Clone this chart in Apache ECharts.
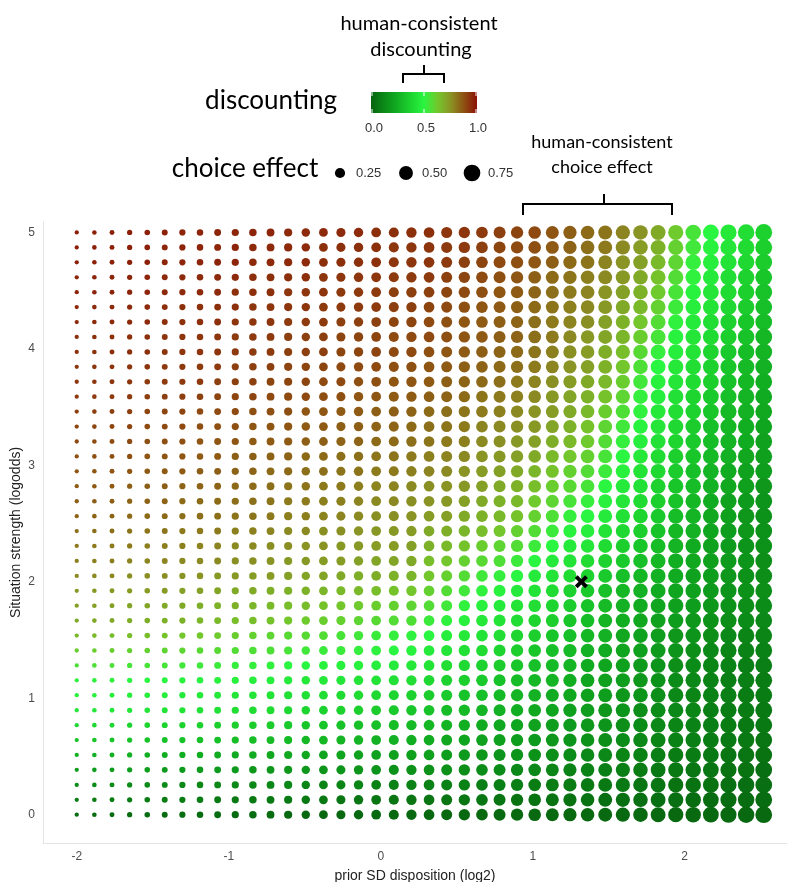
<!DOCTYPE html>
<html>
<head>
<meta charset="utf-8">
<script src="https://cdn.jsdelivr.net/npm/echarts/dist/echarts.min.js"></script>
<style>
html, body { margin: 0; padding: 0; background: #fff; }
#chart { width: 787px; height: 882px; }
</style>
</head>
<body>
<div id="chart"></div>
<script>
// grid of model settings (x = prior SD disposition, log2; y = situation strength, logodds)
var xValues = [-2.000, -1.884, -1.768, -1.652, -1.536, -1.421, -1.305, -1.189, -1.073, -0.957,
	-0.841, -0.725, -0.609, -0.493, -0.377, -0.262, -0.146, -0.030, 0.086, 0.202,
	0.318, 0.434, 0.550, 0.666, 0.782, 0.897, 1.013, 1.129, 1.245, 1.361,
	1.477, 1.593, 1.709, 1.825, 1.941, 2.056, 2.172, 2.288, 2.404, 2.520];
var yValues = [0.000, 0.128, 0.256, 0.385, 0.513, 0.641, 0.769, 0.897, 1.026, 1.154,
	1.282, 1.410, 1.538, 1.667, 1.795, 1.923, 2.051, 2.179, 2.308, 2.436,
	2.564, 2.692, 2.821, 2.949, 3.077, 3.205, 3.333, 3.462, 3.590, 3.718,
	3.846, 3.974, 4.103, 4.231, 4.359, 4.487, 4.615, 4.744, 4.872, 5.000];

// choice effect, one value per column (dot size)
var choiceEffect = [0.053, 0.062, 0.072, 0.082, 0.093, 0.105, 0.117, 0.130, 0.143, 0.158,
	0.172, 0.188, 0.204, 0.220, 0.238, 0.256, 0.274, 0.294, 0.314, 0.334,
	0.355, 0.377, 0.400, 0.423, 0.447, 0.471, 0.496, 0.522, 0.548, 0.575,
	0.603, 0.631, 0.660, 0.690, 0.720, 0.751, 0.782, 0.814, 0.847, 0.881];

// discounting in percent, one string per row, top row (y = 5) first
var discountRows = [
	"97 97 97 97 97 97 96 96 96 96 96 96 95 95 95 95 95 94 94 94 94 93 93 92 91 90 89 87 85 83 81 78 75 70 62 55 50 45 41 37",
	"97 97 97 97 97 96 96 96 96 96 95 95 95 95 94 94 94 94 93 93 93 92 92 91 90 89 88 86 84 82 80 77 73 68 60 54 49 44 40 36",
	"97 97 97 97 97 96 96 96 96 96 95 95 95 95 94 94 94 94 93 93 93 92 91 90 89 88 87 85 83 81 78 75 72 66 59 52 47 43 39 35",
	"96 96 96 96 96 95 95 95 95 95 94 94 94 94 93 93 93 93 92 92 92 91 90 89 88 87 85 83 81 79 77 74 70 64 57 51 46 41 37 33",
	"96 96 96 96 96 95 95 95 95 94 94 94 93 93 93 92 92 92 91 91 91 90 89 88 87 86 84 82 80 78 75 72 68 62 55 49 44 40 36 32",
	"95 95 95 95 95 94 94 94 94 94 93 93 93 93 92 92 92 92 91 91 90 89 88 87 86 85 83 81 79 77 74 70 66 60 53 47 43 39 35 31",
	"95 95 95 95 95 94 94 94 94 93 93 93 92 92 92 91 91 91 90 90 89 88 87 86 85 84 82 80 78 76 72 68 63 57 51 46 41 37 33 30",
	"94 94 94 94 94 93 93 93 93 92 92 92 91 91 91 90 90 90 89 89 89 88 87 86 85 84 82 80 77 74 71 67 61 55 49 44 40 36 32 28",
	"94 94 94 94 94 93 93 93 93 92 92 92 91 91 91 90 90 90 89 89 88 87 86 85 84 83 81 79 76 73 69 65 58 52 47 43 38 34 30 27",
	"93 93 93 93 93 92 92 92 92 91 91 91 90 90 90 89 89 89 88 88 87 86 85 84 83 82 80 78 75 72 68 63 56 50 45 41 37 33 29 26",
	"93 93 93 93 92 92 92 92 91 91 91 90 90 90 89 89 88 88 87 87 86 85 84 83 82 80 78 76 73 70 66 61 54 48 44 40 36 32 28 25",
	"92 92 92 92 91 91 91 91 90 90 90 89 89 89 88 88 87 87 86 86 85 84 83 81 80 79 77 74 71 68 64 59 52 47 42 38 34 31 27 24",
	"91 91 91 91 90 90 90 89 89 89 88 88 88 87 87 86 86 85 85 84 83 82 81 80 79 77 75 73 70 66 61 56 51 45 41 37 33 29 26 23",
	"90 90 90 90 89 89 89 88 88 88 87 87 87 86 86 85 85 84 84 83 82 81 80 78 77 76 74 71 68 64 59 54 49 44 39 35 31 28 25 22",
	"89 89 89 89 88 88 88 87 87 87 86 86 86 85 85 84 84 83 83 82 81 80 79 77 76 74 72 69 66 62 57 52 47 42 38 34 30 27 24 21",
	"88 88 88 88 87 87 87 86 86 85 85 84 84 83 83 82 82 81 81 80 79 78 77 75 74 72 70 66 63 60 55 50 45 40 36 33 29 26 23 20",
	"87 87 87 87 86 86 86 85 85 84 84 83 83 82 82 81 81 80 80 79 78 77 75 73 72 70 67 64 60 57 53 48 43 39 35 31 27 24 21 19",
	"86 86 86 85 85 85 84 84 84 83 83 82 81 81 80 80 79 78 78 77 76 75 74 72 70 68 65 61 58 55 50 46 42 37 33 30 26 23 20 17",
	"85 85 85 84 84 84 83 83 83 82 82 81 80 80 79 79 78 77 77 76 75 74 72 70 68 66 62 59 55 52 48 44 40 36 32 28 24 21 18 16",
	"84 84 84 83 83 83 82 82 82 81 81 80 79 79 78 78 77 76 76 75 73 72 70 68 66 64 60 56 52 50 46 42 38 34 30 27 23 20 17 15",
	"82 82 82 81 81 81 80 80 80 79 79 78 77 77 76 76 75 74 74 73 70 69 67 65 63 60 57 53 49 47 43 39 36 32 28 26 22 19 17 15",
	"80 80 80 80 79 79 79 78 78 77 77 76 76 75 75 74 74 73 73 72 68 66 64 61 59 57 53 50 46 44 40 36 33 30 27 24 21 18 16 15",
	"79 79 79 78 78 78 77 77 77 76 76 75 74 74 73 73 72 71 71 70 65 63 60 58 56 53 50 46 43 40 37 34 31 28 25 23 20 18 16 14",
	"77 77 77 76 76 76 75 75 74 74 73 73 72 71 71 70 69 69 68 67 63 60 57 54 52 50 46 43 40 37 34 31 28 26 24 21 19 17 15 14",
	"74 74 74 73 73 73 72 72 71 70 70 69 68 68 67 66 66 65 64 63 60 57 54 51 49 46 43 40 37 34 31 28 26 24 22 20 18 16 15 14",
	"72 72 72 71 71 70 70 69 68 68 67 66 65 65 64 63 62 61 60 59 57 54 51 48 46 43 41 38 35 32 29 26 24 22 20 19 17 15 14 13",
	"70 70 70 69 69 68 68 67 66 65 65 64 63 62 61 60 59 58 57 56 53 51 48 45 43 41 38 36 33 30 27 25 23 21 19 17 15 14 13 12",
	"66 66 65 65 65 64 63 63 62 61 60 59 58 58 57 55 54 53 52 51 50 47 45 43 41 38 36 33 31 28 26 23 21 19 17 16 14 12 11 11",
	"61 61 61 60 60 59 59 58 58 57 56 56 55 54 53 53 52 51 50 49 46 44 42 40 38 36 33 31 29 26 24 22 20 18 16 14 12 11 10 10",
	"56 56 56 55 55 55 54 54 53 52 52 51 50 50 49 48 48 47 46 45 43 41 39 37 35 33 31 29 27 24 22 20 18 16 14 13 11 10 09 09",
	"51 51 51 50 50 50 49 49 48 48 47 47 46 45 45 44 43 43 42 41 39 37 36 34 32 30 28 27 25 22 20 19 17 15 13 12 10 09 09 08",
	"48 48 48 47 47 47 46 46 45 44 44 43 42 42 41 40 40 39 38 37 35 34 32 31 29 27 26 24 23 20 19 17 16 14 12 11 10 09 08 08",
	"45 45 45 44 44 43 43 42 42 41 40 40 39 38 37 37 36 35 34 33 32 30 29 27 26 25 23 22 20 19 17 16 14 13 12 11 09 08 08 07",
	"39 39 39 38 38 38 37 37 36 36 35 35 34 33 33 32 31 31 30 29 28 27 25 24 23 22 21 19 18 17 16 14 13 12 11 10 09 08 07 07",
	"33 33 33 32 32 32 32 31 31 30 30 29 29 28 28 27 27 26 26 25 24 23 22 21 20 19 18 17 16 15 14 13 12 11 10 09 08 07 07 06",
	"26 26 26 26 25 25 25 25 24 24 24 23 23 23 22 22 21 21 20 20 20 19 18 17 16 16 15 14 13 12 12 11 10 09 08 08 07 06 06 05",
	"19 19 19 19 19 18 18 18 18 18 17 17 17 17 16 16 16 16 15 15 15 15 14 13 13 12 12 11 10 10 09 09 08 07 07 06 06 05 05 04",
	"13 13 13 13 13 13 12 12 12 12 12 12 12 11 11 11 11 10 10 10 10 10 10 09 09 09 08 08 08 07 07 07 06 06 05 05 05 04 04 04",
	"08 08 08 08 08 08 08 08 07 07 07 07 07 07 07 06 06 06 06 06 06 06 06 06 06 05 05 05 05 05 04 04 04 04 04 03 03 03 03 03",
	"03 03 03 03 03 03 03 03 03 03 03 03 02 02 02 02 02 02 02 02 02 02 02 02 02 02 02 02 02 02 02 02 02 02 02 02 02 02 02 02"
];

var xTicks = [-2, -1, 0, 1, 2];
var yTicks = [0, 1, 2, 3, 4, 5];
var colorbarTicks = ['0.0', '0.5', '1.0'];
var sizeLegend = [0.25, 0.50, 0.75];
var humanPoint = [[1.32, 2.0]];

// darkgreen -> green -> darkred
var discountColors = ['#07630f', '#0b8a17', '#12ae22', '#1dd42f', '#2af540',
	'#72c82c', '#8a9424', '#8e5212', '#8b1006'];

function dotSize(v) {
	return Math.sqrt(1.5 + 318 * v);
}

var points = [];
for (var i = 0; i < discountRows.length; i++) {
	var row = discountRows[i].split(' ');
	var yi = yValues.length - 1 - i;
	for (var j = 0; j < row.length; j++) {
		points.push([xValues[j], yValues[yi], +row[j] / 100, choiceEffect[j]]);
	}
}

var labelFont = 'Liberation Sans';
var titleFont = 'Lato';

var gradStops = discountColors.map(function (c, k) {
	return { offset: k / (discountColors.length - 1), color: c };
});

var graphics = [
	// colour legend
	{ type: 'text', style: { text: 'human-consistent', x: 419, y: 24, font: '20px ' + titleFont, fill: '#000', textAlign: 'center', textVerticalAlign: 'middle' } },
	{ type: 'text', style: { text: 'discounting', x: 421, y: 50, font: '20px ' + titleFont, fill: '#000', textAlign: 'center', textVerticalAlign: 'middle' } },
	{ type: 'polyline', shape: { points: [[403, 83], [403, 74], [444, 74], [444, 83]] }, style: { stroke: '#000', lineWidth: 2, fill: null } },
	{ type: 'line', shape: { x1: 424, y1: 74, x2: 424, y2: 65 }, style: { stroke: '#000', lineWidth: 2 } },
	{ type: 'text', style: { text: 'discounting', x: 271, y: 101, font: '26px ' + titleFont, fill: '#000', textAlign: 'center', textVerticalAlign: 'middle' } },
	{ type: 'rect', shape: { x: 371, y: 92, width: 106, height: 21 }, style: { fill: new echarts.graphic.LinearGradient(0, 0, 1, 0, gradStops) } },
	// size legend
	{ type: 'text', style: { text: 'choice effect', x: 245, y: 169, font: '26px ' + titleFont, fill: '#000', textAlign: 'center', textVerticalAlign: 'middle' } },
	// annotation for the choice effect
	{ type: 'text', style: { text: 'human-consistent', x: 602, y: 142, font: '18px ' + titleFont, fill: '#000', textAlign: 'center', textVerticalAlign: 'middle' } },
	{ type: 'text', style: { text: 'choice effect', x: 602, y: 167, font: '18px ' + titleFont, fill: '#000', textAlign: 'center', textVerticalAlign: 'middle' } },
	{ type: 'polyline', shape: { points: [[523, 215], [523, 204], [672, 204], [672, 215]] }, style: { stroke: '#000', lineWidth: 2, fill: null } },
	{ type: 'line', shape: { x1: 604, y1: 204, x2: 604, y2: 194 }, style: { stroke: '#000', lineWidth: 2 } }
];
colorbarTicks.forEach(function (t, k) {
	var x = 372 + k * 52;
	graphics.push({ type: 'line', shape: { x1: x, y1: 92, x2: x, y2: 96 }, style: { stroke: '#fff', lineWidth: 1 } });
	graphics.push({ type: 'line', shape: { x1: x, y1: 109, x2: x, y2: 113 }, style: { stroke: '#fff', lineWidth: 1 } });
	graphics.push({ type: 'text', style: { text: t, x: x + 2, y: 128, font: '13px ' + labelFont, fill: '#333', textAlign: 'center', textVerticalAlign: 'middle' } });
});
sizeLegend.forEach(function (v, k) {
	var cx = 340 + k * 66;
	graphics.push({ type: 'circle', shape: { cx: cx, cy: 173, r: dotSize(v) / 2 + 0.6 }, style: { fill: '#000' } });
	graphics.push({ type: 'text', style: { text: v.toFixed(2), x: cx + 16, y: 173, font: '13px ' + labelFont, fill: '#333', textAlign: 'left', textVerticalAlign: 'middle' } });
});

var option = {
	animation: false,
	backgroundColor: '#fff',
	grid: { left: 43, right: 0, top: 222, bottom: 39, outerBoundsMode: 'none', containLabel: false },
	xAxis: {
		type: 'value',
		min: -2.222,
		max: 2.673,
		name: 'prior SD disposition (log2)',
		nameLocation: 'middle',
		nameGap: 26,
		nameMoveOverlap: false,
		nameTextStyle: { fontFamily: labelFont, fontSize: 14, color: '#222' },
		axisLine: { show: true, onZero: false, lineStyle: { color: '#e4e4e4' } },
		axisTick: { show: false },
		splitLine: { show: false },
		axisLabel: { customValues: xTicks, fontFamily: labelFont, fontSize: 12, color: '#4d4d4d', margin: 8 }
	},
	yAxis: {
		type: 'value',
		min: -0.243,
		max: 5.09,
		name: 'Situation strength (logodds)',
		nameLocation: 'middle',
		nameGap: 20,
		nameMoveOverlap: false,
		nameRotate: 90,
		nameTextStyle: { fontFamily: labelFont, fontSize: 14, color: '#222' },
		axisLine: { show: true, onZero: false, lineStyle: { color: '#e4e4e4' } },
		axisTick: { show: false },
		splitLine: { show: false },
		axisLabel: { customValues: yTicks, fontFamily: labelFont, fontSize: 12, color: '#4d4d4d', margin: 8 }
	},
	visualMap: {
		show: false,
		type: 'continuous',
		seriesIndex: 0,
		dimension: 2,
		min: 0,
		max: 1,
		inRange: { color: discountColors }
	},
	graphic: graphics,
	series: [
		{
			type: 'scatter',
			data: points,
			symbol: 'circle',
			symbolSize: function (d) { return dotSize(d[3]); },
			itemStyle: { opacity: 1 },
			silent: true,
			large: false,
			progressive: 0
		},
		{
			type: 'scatter',
			data: humanPoint,
			symbol: 'path://M0,3 L3,0 L7,4 L11,0 L14,3 L10,7 L14,11 L11,14 L7,10 L3,14 L0,11 L4,7 Z',
			symbolSize: 13,
			itemStyle: { color: '#000', opacity: 1 },
			silent: true,
			z: 5
		}
	]
};

var chart = echarts.init(document.getElementById('chart'));
chart.setOption(option);
</script>
</body>
</html>
